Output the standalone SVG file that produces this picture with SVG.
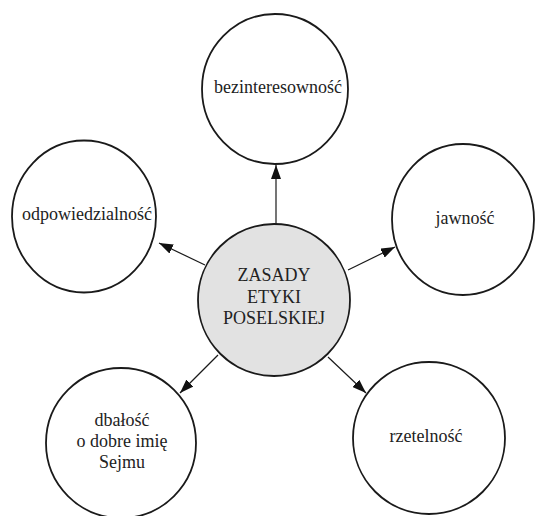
<svg xmlns="http://www.w3.org/2000/svg" width="536" height="516" viewBox="0 0 536 516">
<style>
.node{fill:#fff;stroke:#1a1a1a;stroke-width:1.8}
.center{fill:#e2e2e2;stroke:#1a1a1a;stroke-width:1.8}
text{font-family:'Liberation Serif','DejaVu Serif',serif;font-size:18px;fill:#222;text-anchor:middle}
.conn{stroke:#1a1a1a;stroke-width:1.2;fill:none;marker-end:url(#arr)}
</style>
<defs>
<marker id="arr" viewBox="0 0 14 10" refX="14" refY="5" markerWidth="14" markerHeight="10" markerUnits="userSpaceOnUse" orient="auto">
<path d="M0,0 L14,5 L0,10 Z" fill="#111"/>
</marker>
</defs>
<rect width="536" height="516" fill="#fff"/>
<g id="connectors">
<line class="conn" x1="276" y1="224" x2="276" y2="165"/>
<line class="conn" x1="205" y1="265" x2="159" y2="243"/>
<line class="conn" x1="348" y1="270" x2="395" y2="247"/>
<line class="conn" x1="218" y1="355" x2="180" y2="393"/>
<line class="conn" x1="328" y1="357" x2="366" y2="393"/>
</g>
<g id="center">
<ellipse class="center" cx="274" cy="300" rx="76" ry="76"/>
<text x="274" y="281" font-family="Liberation Serif, serif">ZASADY</text>
<text x="274" y="303" font-family="Liberation Serif, serif">ETYKI</text>
<text x="274" y="324" font-family="Liberation Serif, serif">POSELSKIEJ</text>
</g>
<g id="bezinteresownosc">
<ellipse class="node" cx="275" cy="89" rx="73" ry="75"/>
<text x="278" y="93" font-family="Liberation Serif, serif">bezinteresowność</text>
</g>
<g id="odpowiedzialnosc">
<ellipse class="node" cx="84" cy="216.5" rx="72" ry="76"/>
<text x="87" y="220" font-family="Liberation Serif, serif">odpowiedzialność</text>
</g>
<g id="jawnosc">
<ellipse class="node" cx="463" cy="219.5" rx="71" ry="75.5"/>
<text x="465" y="224" font-family="Liberation Serif, serif">jawność</text>
</g>
<g id="dbalosc">
<ellipse class="node" cx="121" cy="443" rx="75" ry="75"/>
<text x="122" y="426" font-family="Liberation Serif, serif">dbałość</text>
<text x="122" y="447" font-family="Liberation Serif, serif">o dobre imię</text>
<text x="122" y="468" font-family="Liberation Serif, serif">Sejmu</text>
</g>
<g id="rzetelnosc">
<ellipse class="node" cx="429" cy="438" rx="76" ry="76"/>
<text x="426" y="442" font-family="Liberation Serif, serif">rzetelność</text>
</g>
</svg>
